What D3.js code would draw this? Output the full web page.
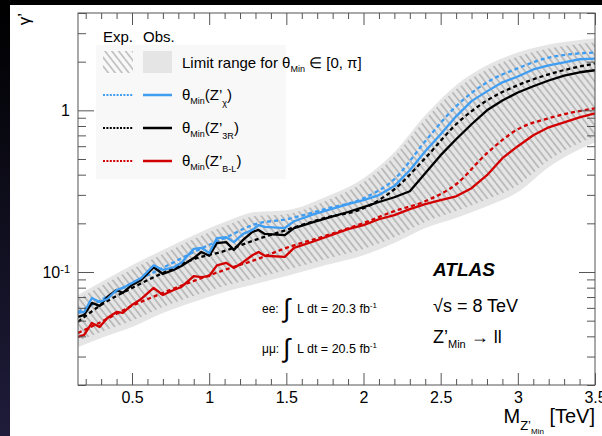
<!DOCTYPE html>
<html lang="en">
<head>
<meta charset="UTF-8">
<title>Z'Min limits</title>
<script src="https://cdn.jsdelivr.net/npm/d3@7"></script>
<style>
  html, body { margin: 0; padding: 0; background: #fff; }
  svg { display: block; font-family: "Liberation Sans", Arial, sans-serif; }
</style>
</head>
<body>
<script>
    // ---- data ----
    var massObs = [0.15, 0.19, 0.24, 0.29, 0.34, 0.40, 0.44, 0.50, 0.56, 0.64, 0.70, 0.77, 0.82, 0.90, 0.95,
        1.0, 1.05, 1.11, 1.16, 1.22, 1.28, 1.32, 1.36, 1.49, 1.55, 1.68, 1.79, 1.90, 2.0, 2.1, 2.2,
        2.3, 2.4, 2.5, 2.6, 2.7, 2.8, 2.9, 3.0, 3.1, 3.2, 3.3, 3.4, 3.5];
    var obsChi = [0.0558, 0.0566, 0.0691, 0.0653, 0.0681, 0.0774, 0.0797, 0.0855, 0.0918, 0.110, 0.103, 0.107,
        0.114, 0.139, 0.141, 0.131, 0.162, 0.164, 0.153, 0.172, 0.182, 0.195, 0.190, 0.187, 0.206, 0.228,
        0.245, 0.263, 0.278, 0.299, 0.340, 0.426, 0.558, 0.711, 0.918, 1.14, 1.31, 1.49, 1.62, 1.79, 1.90,
        1.98, 2.07, 2.09];
    var obs3R = [0.0527, 0.0543, 0.0644, 0.0617, 0.0701, 0.0774, 0.0742, 0.0832, 0.0893, 0.107, 0.0972, 0.103,
        0.109, 0.122, 0.133, 0.126, 0.151, 0.153, 0.137, 0.158, 0.177, 0.182, 0.172, 0.169, 0.187, 0.204,
        0.219, 0.235, 0.252, 0.271, 0.290, 0.316, 0.408, 0.528, 0.662, 0.820, 1.0, 1.15, 1.29, 1.41, 1.53,
        1.64, 1.72, 1.77];
    var obsBL = [0.0397, 0.0408, 0.0484, 0.0457, 0.0520, 0.0566, 0.0558, 0.0626, 0.0681, 0.0797, 0.0721, 0.0774,
        0.0808, 0.0944, 0.0931, 0.0944, 0.110, 0.114, 0.106, 0.115, 0.127, 0.133, 0.126, 0.124, 0.141, 0.155,
        0.169, 0.184, 0.195, 0.212, 0.225, 0.245, 0.263, 0.278, 0.294, 0.330, 0.397, 0.506, 0.600, 0.701,
        0.785, 0.843, 0.905, 0.958];

    var massExp = [0.15, 0.3, 0.5, 0.7, 0.9, 1.1, 1.3, 1.5, 1.75, 2.0, 2.2, 2.4, 2.6, 2.8, 3.0, 3.2, 3.5];
    var expChi = [0.0566, 0.0672, 0.0855, 0.106, 0.133, 0.162, 0.198, 0.212, 0.245, 0.286, 0.375, 0.644, 1.06, 1.49, 1.82, 2.12, 2.28];
    var exp3R = [0.0491, 0.0626, 0.0797, 0.0986, 0.120, 0.135, 0.158, 0.182, 0.216, 0.248, 0.325, 0.506, 0.820, 1.15, 1.43, 1.67, 1.95];
    var expBL = [0.0420, 0.0491, 0.0617, 0.0742, 0.0880, 0.103, 0.119, 0.141, 0.167, 0.201, 0.238, 0.274, 0.349, 0.543, 0.764, 0.893, 1.03];

    // limit range for theta_Min in [0, pi]
    var obsRangeHi = [0.0721, 0.0868, 0.110, 0.137, 0.169, 0.204, 0.235, 0.241, 0.290, 0.380, 0.550, 0.931, 1.43, 1.90, 2.28, 2.55, 2.78];
    var obsRangeLo = [0.0344, 0.0391, 0.0457, 0.0558, 0.0653, 0.0753, 0.0843, 0.0944, 0.110, 0.127, 0.151, 0.187, 0.216, 0.255, 0.312, 0.445, 0.634];
    var expRangeHi = [0.0681, 0.0820, 0.104, 0.129, 0.160, 0.192, 0.222, 0.228, 0.274, 0.360, 0.520, 0.880, 1.35, 1.79, 2.15, 2.41, 2.63];
    var expRangeLo = [0.0375, 0.0426, 0.0499, 0.0608, 0.0711, 0.0820, 0.0918, 0.103, 0.120, 0.139, 0.164, 0.204, 0.238, 0.282, 0.344, 0.491, 0.691];

    var xMajor = [0.5, 1, 1.5, 2, 2.5, 3, 3.5];
    var yMajor = [0.1, 1];

    // ---- layout ----
    var width = 602, height = 436;
    var pLeft = 78, pRight = 595, pTop = 13, pBottom = 385;
    var blue = "#3f9df2", red = "#d20000", black = "#000";

    var svg = d3.select("body").append("svg")
            .attr("width", width)
            .attr("height", height);
    var defs = svg.append("defs");

    // screen edge (dark strip at left and top of the photo)
    var grad = defs.append("linearGradient").attr("id", "edge")
            .attr("x1", 0).attr("y1", 0).attr("x2", 0).attr("y2", 1);
    grad.append("stop").attr("offset", "0%").attr("stop-color", "#000");
    grad.append("stop").attr("offset", "100%").attr("stop-color", "#1e1c3a");
    svg.append("rect").attr("x", 0).attr("y", 0).attr("width", width).attr("height", 5).attr("fill", "#000");
    svg.append("rect").attr("x", 0).attr("y", 0).attr("width", 10).attr("height", height).attr("fill", "url(#edge)");

    var x = d3.scaleLinear().domain([0.15, 3.5]).range([pLeft, pRight]);
    var y = d3.scaleLog().domain([0.02, 4]).range([pBottom, pTop]);

    defs.append("clipPath").attr("id", "plot")
            .append("rect").attr("x", pLeft).attr("y", pTop)
            .attr("width", pRight - pLeft).attr("height", pBottom - pTop);

    // hatch for the expected range
    var hatch = defs.append("pattern").attr("id", "hatch")
            .attr("patternUnits", "userSpaceOnUse")
            .attr("width", 5.4).attr("height", 5.4)
            .attr("patternTransform", "rotate(-38)");
    hatch.append("line").attr("x1", 2.7).attr("y1", -1).attr("x2", 2.7).attr("y2", 7)
            .attr("stroke", "#8f8f8f").attr("stroke-width", 0.9);

    // legend backdrop
    svg.append("rect").attr("x", 96).attr("y", 45).attr("width", 190).attr("height", 134)
            .attr("fill", "#f8f8f8");

    var g = svg.append("g").attr("clip-path", "url(#plot)");

    function band(lo, hi) {
        return d3.area()
                .x(function (d, i) { return x(massExp[i]); })
                .y0(function (d, i) { return y(lo[i]); })
                .y1(function (d, i) { return y(hi[i]); })
                .curve(d3.curveMonotoneX)(massExp);
    }
    g.append("path").attr("d", band(obsRangeLo, obsRangeHi)).attr("fill", "#e5e5e5");
    g.append("path").attr("d", band(expRangeLo, expRangeHi)).attr("fill", "url(#hatch)");

    var expLine = d3.line()
            .x(function (d, i) { return x(massExp[i]); })
            .y(function (d) { return y(d); })
            .curve(d3.curveMonotoneX);
    var obsLine = d3.line()
            .x(function (d, i) { return x(massObs[i]); })
            .y(function (d) { return y(d); });

    var expected = [[expBL, red], [exp3R, black], [expChi, blue]];
    expected.forEach(function (s) {
        g.append("path").attr("d", expLine(s[0])).attr("fill", "none")
                .attr("stroke", s[1]).attr("stroke-width", 2.3).attr("stroke-dasharray", "4,3");
    });
    var observed = [[obsBL, red], [obs3R, black], [obsChi, blue]];
    observed.forEach(function (s) {
        g.append("path").attr("d", obsLine(s[0])).attr("fill", "none")
                .attr("stroke", s[1]).attr("stroke-width", 2.3).attr("stroke-linejoin", "round");
    });

    // ---- axes ----
    var xMinor = d3.range(2, 35).map(function (k) { return k / 10; })
            .filter(function (v) { return Math.abs(v * 2 - Math.round(v * 2)) > 1e-6; });
    var yMinor = [0.02, 0.03, 0.04, 0.05, 0.06, 0.07, 0.08, 0.09, 0.2, 0.3, 0.4, 0.5, 0.6, 0.7, 0.8, 0.9, 2, 3, 4];

    function styleAxis(sel) {
        sel.select(".domain").remove();
        sel.selectAll("line").attr("stroke", "#555");
        sel.selectAll("text").attr("fill", "#000").style("font-size", "16px")
                .style("font-family", "Liberation Sans, Arial, sans-serif");
    }

    svg.append("g").attr("transform", "translate(0," + pBottom + ")")
            .call(d3.axisBottom(x).tickValues(xMajor).tickSize(-12).tickPadding(7)
                    .tickFormat(d3.format("")))
            .call(styleAxis);
    svg.append("g").attr("transform", "translate(0," + pBottom + ")")
            .call(d3.axisBottom(x).tickValues(xMinor).tickSize(-6).tickFormat(""))
            .call(styleAxis);
    svg.append("g").attr("transform", "translate(0," + pTop + ")")
            .call(d3.axisTop(x).tickValues(xMajor).tickSize(-12).tickFormat(""))
            .call(styleAxis);
    svg.append("g").attr("transform", "translate(0," + pTop + ")")
            .call(d3.axisTop(x).tickValues(xMinor).tickSize(-6).tickFormat(""))
            .call(styleAxis);

    var yAx = svg.append("g").attr("transform", "translate(" + pLeft + ",0)")
            .call(d3.axisLeft(y).tickValues(yMajor).tickSize(-16).tickPadding(8)
                    .tickFormat(function (d) { return d === 1 ? "1" : "10"; }))
            .call(styleAxis);
    yAx.selectAll("text").filter(function (d) { return d === 0.1; })
            .append("tspan").attr("dy", "-0.45em").style("font-size", "11px").text("-1");
    svg.append("g").attr("transform", "translate(" + pLeft + ",0)")
            .call(d3.axisLeft(y).tickValues(yMinor).tickSize(-8).tickFormat(""))
            .call(styleAxis);
    svg.append("g").attr("transform", "translate(" + pRight + ",0)")
            .call(d3.axisRight(y).tickValues(yMajor).tickSize(-16).tickFormat(""))
            .call(styleAxis);
    svg.append("g").attr("transform", "translate(" + pRight + ",0)")
            .call(d3.axisRight(y).tickValues(yMinor).tickSize(-8).tickFormat(""))
            .call(styleAxis);

    svg.append("rect").attr("x", pLeft).attr("y", pTop)
            .attr("width", pRight - pLeft).attr("height", pBottom - pTop)
            .attr("fill", "none").attr("stroke", "#555").attr("stroke-width", 1);

    // axis titles
    var xt = svg.append("text").attr("x", pRight).attr("y", 423)
            .attr("text-anchor", "end").style("font-size", "20px");
    xt.append("tspan").text("M");
    xt.append("tspan").attr("dy", 7).style("font-size", "13px").text("Z’");
    xt.append("tspan").attr("dy", 4).style("font-size", "8px").text("Min");
    xt.append("tspan").attr("dy", -11).text(" [TeV]");

    svg.append("text").attr("transform", "translate(30," + pTop + ") rotate(-90)")
            .attr("text-anchor", "end").style("font-size", "17px").text("γ’");

    // ---- legend ----
    svg.append("text").attr("x", 103).attr("y", 42).style("font-size", "15px").text("Exp.");
    svg.append("text").attr("x", 143).attr("y", 42).style("font-size", "15px").text("Obs.");
    svg.append("rect").attr("x", 103).attr("y", 51).attr("width", 30).attr("height", 22).attr("fill", "url(#hatch)");
    svg.append("rect").attr("x", 143).attr("y", 51).attr("width", 29).attr("height", 22).attr("fill", "#e5e5e5");
    var lr = svg.append("text").attr("x", 182).attr("y", 68).style("font-size", "15px");
    lr.append("tspan").text("Limit range for θ");
    lr.append("tspan").attr("dy", 4).style("font-size", "9px").text("Min");
    lr.append("tspan").attr("dy", -4).text(" ∈ [0, π]");

    var legendRows = [
        {color: blue, y: 95, sub: "χ"},
        {color: black, y: 128, sub: "3R"},
        {color: red, y: 161, sub: "B-L"}
    ];
    legendRows.forEach(function (r) {
        svg.append("line").attr("x1", 103).attr("x2", 133).attr("y1", r.y).attr("y2", r.y)
                .attr("stroke", r.color).attr("stroke-width", 2).attr("stroke-dasharray", "2,1.4");
        svg.append("line").attr("x1", 143).attr("x2", 172).attr("y1", r.y).attr("y2", r.y)
                .attr("stroke", r.color).attr("stroke-width", 2.5);
        var t = svg.append("text").attr("x", 182).attr("y", r.y + 5).style("font-size", "15px");
        t.append("tspan").text("θ");
        t.append("tspan").attr("dy", 4).style("font-size", "9px").text("Min");
        t.append("tspan").attr("dy", -4).text("(Z’");
        t.append("tspan").attr("dy", 6).style("font-size", "9px").text(r.sub);
        t.append("tspan").attr("dy", -6).text(")");
    });

    // ---- annotations ----
    svg.append("text").attr("x", 433).attr("y", 276)
            .style("font-size", "19px").style("font-weight", "bold").style("font-style", "italic")
            .text("ATLAS");
    svg.append("text").attr("x", 433).attr("y", 312).style("font-size", "18px").text("√s = 8 TeV");
    var zt = svg.append("text").attr("x", 433).attr("y", 343).style("font-size", "18px");
    zt.append("tspan").text("Z’");
    zt.append("tspan").attr("dy", 5).style("font-size", "11px").text("Min");
    zt.append("tspan").attr("dy", -5).text(" → ll");

    var lumi = [{label: "ee:", value: "20.3", y: 313}, {label: "μμ:", value: "20.5", y: 353}];
    lumi.forEach(function (l) {
        svg.append("text").attr("x", 262).attr("y", l.y).style("font-size", "12px").text(l.label);
        svg.append("text").attr("x", 283).attr("y", l.y + 4).style("font-size", "26px").text("∫");
        var t = svg.append("text").attr("x", 297).attr("y", l.y).style("font-size", "12.5px");
        t.append("tspan").text("L dt = " + l.value + " fb");
        t.append("tspan").attr("dy", -5).style("font-size", "8px").text("-1");
    });
</script>
</body>
</html>
